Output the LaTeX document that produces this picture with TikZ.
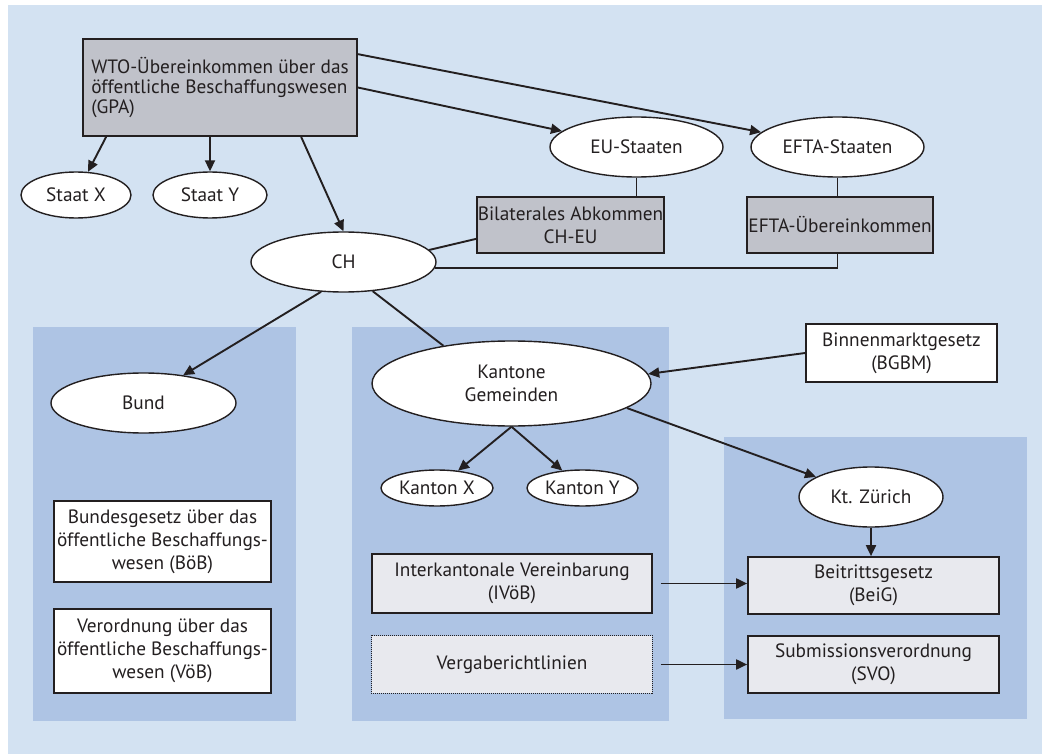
\documentclass[tikz,border=0pt]{standalone}
\usepackage{fontspec}
\setmainfont{PT Sans}
\usetikzlibrary{shapes.geometric,arrows.meta}
\definecolor{bgblue}{RGB}{211,226,242}
\definecolor{panelblue}{RGB}{174,196,228}
\definecolor{darkbox}{RGB}{192,194,202}
\definecolor{lightbox}{RGB}{232,233,238}
\definecolor{ink}{RGB}{35,31,32}
\begin{document}
\begin{tikzpicture}[
            x=1pt, y=-1pt,
            font=\fontsize{19.3}{23}\selectfont,
            every node/.style={text=ink},
            >={Triangle[length=11pt,width=10pt]},
            conn/.style={draw=ink, line width=1.9pt},
            oval/.style={draw=ink, line width=1.4pt, ellipse, fill=white, inner sep=0pt, align=center},
            law/.style={draw=ink, line width=1.7pt, rectangle, inner sep=0pt, align=center},
            treaty/.style={law, fill=darkbox},
            canton/.style={law, fill=lightbox},
            federal/.style={law, fill=white}
        ]

        \useasboundingbox (0,0) rectangle (1042,754);
        \fill [bgblue] (8,5) rectangle (1042,754);
        \fill [panelblue] (33,327) rectangle (296,721);
        \fill [panelblue] (352,327) rectangle (669,721);
        \fill [panelblue] (724,437) rectangle (1027,719);

        \node [treaty, minimum width=274, minimum height=97, align=left, font=\fontsize{19.3}{19.8}\selectfont] (GPA) at (220,87.5) {WTO-Übereinkommen über das\\öffentliche Beschaffungswesen\\(GPA)};
        \node [oval, minimum width=110, minimum height=46] (SX) at (76,195) {Staat X};
        \node [oval, minimum width=114, minimum height=46] (SY) at (210,195) {Staat Y};
        \node [oval, minimum width=173, minimum height=60] (EU) at (636.5,147) {EU-Staaten};
        \node [oval, minimum width=173, minimum height=60] (EFTA) at (837.5,147) {EFTA-Staaten};
        \node [treaty, minimum width=187, minimum height=56] (BIL) at (570.5,225) {Bilaterales Abkommen\\CH-EU};
        \node [treaty, minimum width=186, minimum height=56] (EUE) at (840,225) {EFTA-Übereinkommen};
        \node [oval, minimum width=185, minimum height=60] (CH) at (343.5,262) {CH};

        \node [oval, minimum width=185, minimum height=60] (Bund) at (143.5,403) {Bund};
        \node [federal, minimum width=217, minimum height=81] (BoeB) at (162.5,541.5) {Bundesgesetz über das\\öffentliche Beschaffungs-\\wesen (BöB)};
        \node [federal, minimum width=217, minimum height=84] (VoeB) at (162.5,651) {Verordnung über das\\öffentliche Beschaffungs-\\wesen (VöB)};

        \node [oval, minimum width=279, minimum height=85] (Kt) at (511.5,383.5) {Kantone\\Gemeinden};
        \node [federal, minimum width=191, minimum height=58] (BGBM) at (901.5,353) {Binnenmarktgesetz\\(BGBM)};
        \node [oval, minimum width=112, minimum height=36] (KX) at (437,488) {Kanton X};
        \node [oval, minimum width=111, minimum height=36] (KY) at (582.5,488) {Kanton Y};
        \node [canton, minimum width=280, minimum height=59] (IVoeB) at (512,583.5) {Interkantonale Vereinbarung\\(IVöB)};
        \node [canton, minimum width=280, minimum height=57, draw=none] (VR) at (512,664.5) {Vergaberichtlinien};
        \draw [ink, line width=1pt, densely dotted] (VR.south west) rectangle (VR.north east);

        \node [oval, minimum width=144, minimum height=60] (ZH) at (871,497) {Kt. Zürich};
        \node [canton, minimum width=251, minimum height=57] (BeiG) at (873.5,585.5) {Beitrittsgesetz\\(BeiG)};
        \node [canton, minimum width=251, minimum height=57] (SVO) at (873.5,664.5) {Submissionsverordnung\\(SVO)};

        \draw [conn, ->] ([xshift=24]GPA.south west) -- (SX);
        \draw [conn, ->] (SY.north |- GPA.south) -- (SY.north);
        \draw [conn, ->] ([xshift=219]GPA.south west) -- (CH.north);
        \draw [conn, ->] ([yshift=-16]GPA.north east) -- (EFTA);
        \draw [conn, ->] (GPA.east) -- (EU);
        \draw [conn] (EU.south) -- (EU.south |- BIL.north);
        \draw [conn] (EFTA.south) -- (EFTA.south |- EUE.north);
        \draw [conn] ([yshift=15]BIL.south west) -- (CH.8);
        \draw [conn] (EFTA.south |- EUE.south) |- (CH.-4);

        \draw [conn, ->] (CH.-127) -- (Bund.35);
        \draw [conn] (CH.-45) -- (Kt.151);
        \draw [conn, ->] (BGBM.west) -- (Kt.4);
        \draw [conn, ->] (Kt.south) -- (KX);
        \draw [conn, ->] (Kt.south) -- (KY);
        \draw [conn, ->] (Kt.-12) -- (ZH);
        \draw [conn, ->] (ZH.south) -- (ZH.south |- BeiG.north);
        \draw [conn, ->] ([xshift=8]IVoeB.east) -- (IVoeB.east -| BeiG.west);
        \draw [conn, ->] ([xshift=8]VR.east) -- (VR.east -| SVO.west);

        \end{tikzpicture}
\end{document}
